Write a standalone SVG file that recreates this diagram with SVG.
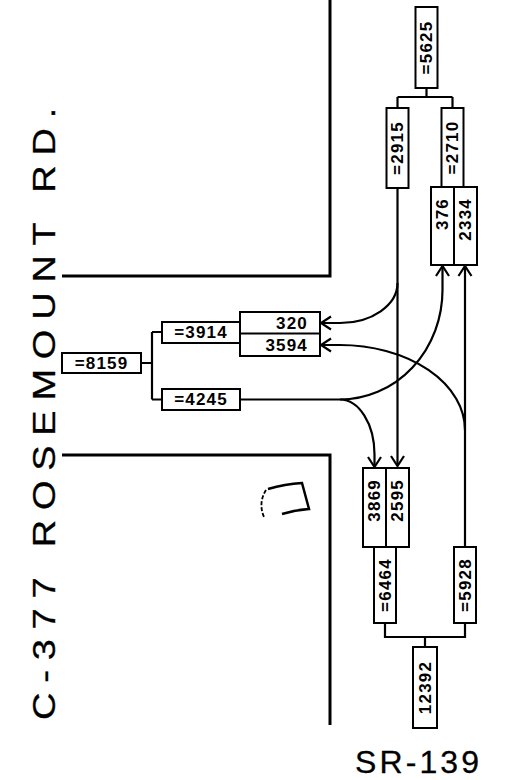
<svg xmlns="http://www.w3.org/2000/svg" width="507" height="780" viewBox="0 0 507 780">
<style>
.box{fill:#fff;stroke:#000;stroke-width:2}
.lbl{font-family:"Liberation Sans",Arial,sans-serif;font-size:17px;font-weight:bold;fill:#000;letter-spacing:1.2px;dominant-baseline:central}
.m{text-anchor:middle}
.e{text-anchor:end}
.c{fill:none;stroke:#000;stroke-width:2.2}
.road{fill:none;stroke:#000;stroke-width:3}
.big{font-family:"Liberation Sans",Arial,sans-serif;fill:#000;stroke:#000;stroke-width:0.3}
</style>
<defs>
<marker id="ah" markerUnits="userSpaceOnUse" viewBox="-12 -8 14 16" markerWidth="14" markerHeight="16" refX="0" refY="0" orient="auto">
<path d="M-10,-6.5 L0,0 L-10,6.5" fill="none" stroke="#000" stroke-width="2.2"/>
</marker>
</defs>
<rect width="507" height="780" fill="#fff"/>
<g id="roads">
<path class="road" d="M330 0 V276 H62"/>
<path class="road" d="M62 455 H330 V725"/>
</g>
<text class="big" font-size="31" letter-spacing="8" transform="translate(55 720) rotate(-90)" textLength="622" lengthAdjust="spacingAndGlyphs">C-377 ROSEMOUNT RD.</text>
<text class="big" font-size="32" letter-spacing="4" x="355" y="773" textLength="128" lengthAdjust="spacing">SR-139</text>
<g id="mark" fill="none" stroke="#000">
<path d="M268 489 Q285 484 302 483 L309 509 Q295 510 282 514" stroke-width="2.5"/>
<path d="M266 490 Q258 503 264 517" stroke-width="1.8" stroke-dasharray="4 2"/>
</g>
<g id="connectors">
<path class="c" d="M426.5 88 V97 M397.5 97 H452.5 M397.5 97 V108 M452.5 97 V108"/>
<path class="c" d="M141 363 H152 M152 332 V399.5 M152 332 H162 M152 399.5 H162"/>
<path class="c" d="M385 623 V637 H465 V623 M425 637 V647"/>
<path class="c" d="M397.5 188 V466" marker-end="url(#ah)"/>
<path class="c" d="M465 547 V266" marker-end="url(#ah)"/>
<path class="c" d="M240 399.5 H340 A102.5 109.5 0 0 0 442.5 290 V266" marker-end="url(#ah)"/>
<path class="c" d="M340 399.5 A34.5 55 0 0 1 374.5 454.5 V467" marker-end="url(#ah)"/>
<path class="c" d="M397.5 283 A57.5 40 0 0 1 340 323 H321" marker-end="url(#ah)"/>
<path class="c" d="M465 430 A125 85 0 0 0 340 345 H321" marker-end="url(#ah)"/>
</g>
<g id="n5625"><rect class="box" x="415.5" y="7" width="22" height="81"/><text class="lbl m" transform="translate(426.5 47.5) rotate(-90)">=5625</text></g>
<g id="n2915"><rect class="box" x="386.5" y="108" width="22" height="80"/><text class="lbl m" transform="translate(397.5 148) rotate(-90)">=2915</text></g>
<g id="n2710"><rect class="box" x="441.5" y="108" width="22" height="79"/><text class="lbl m" transform="translate(452.5 147.5) rotate(-90)">=2710</text></g>
<g id="n376_2334"><rect class="box" x="431" y="187" width="46" height="78"/><path d="M454 187 V265" stroke="#000" stroke-width="2"/><text class="lbl e" transform="translate(442.5 198) rotate(-90)">376</text><text class="lbl e" transform="translate(465.5 198) rotate(-90)">2334</text></g>
<g id="n3914"><rect class="box" x="162" y="322" width="78" height="21"/><text class="lbl m" x="201" y="332.5">=3914</text></g>
<g id="n320_3594"><rect class="box" x="240" y="312" width="80" height="44"/><path d="M240 333.5 H320" stroke="#000" stroke-width="2"/><text class="lbl e" x="308" y="323">320</text><text class="lbl e" x="308" y="345">3594</text></g>
<g id="n8159"><rect class="box" x="62" y="353" width="79" height="20"/><text class="lbl m" x="101.5" y="363">=8159</text></g>
<g id="n4245"><rect class="box" x="162" y="389" width="78" height="21"/><text class="lbl m" x="201" y="399.5">=4245</text></g>
<g id="n3869_2595"><rect class="box" x="363" y="468" width="46" height="79"/><path d="M386 468 V547" stroke="#000" stroke-width="2"/><text class="lbl e" transform="translate(374.5 479) rotate(-90)">3869</text><text class="lbl e" transform="translate(397.5 479) rotate(-90)">2595</text></g>
<g id="n6464"><rect class="box" x="374" y="547" width="22" height="76"/><text class="lbl m" transform="translate(385 585) rotate(-90)">=6464</text></g>
<g id="n5928"><rect class="box" x="454" y="547" width="22" height="76"/><text class="lbl m" transform="translate(465 585) rotate(-90)">=5928</text></g>
<g id="n12392"><rect class="box" x="413" y="647" width="24" height="81"/><text class="lbl m" transform="translate(425 687.5) rotate(-90)">12392</text></g>
</svg>
